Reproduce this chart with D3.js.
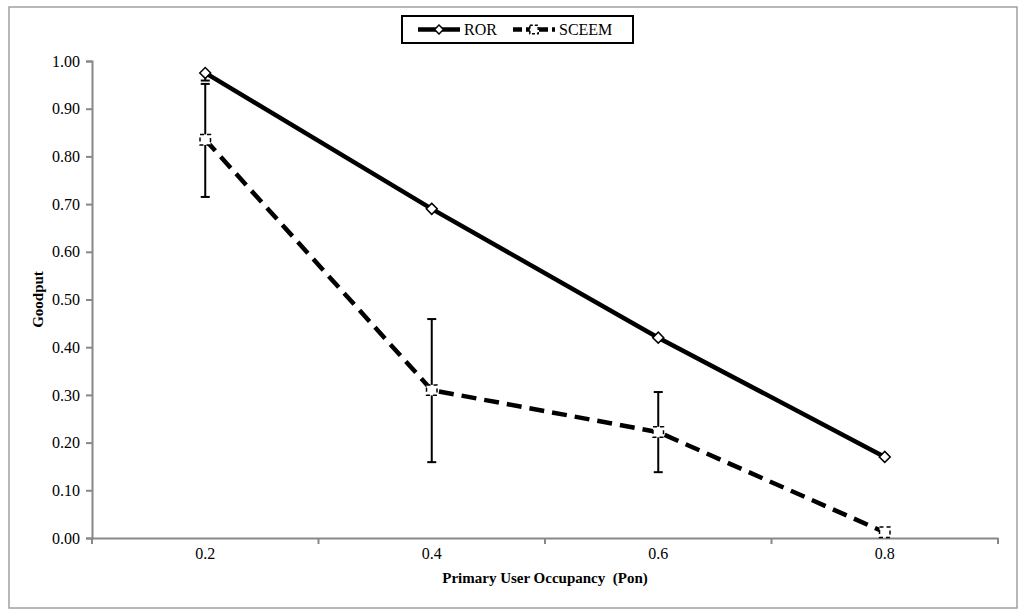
<!DOCTYPE html>
<html><head><meta charset="utf-8">
<script src="https://cdn.jsdelivr.net/npm/d3@7"></script>
<style>body{margin:0;background:#fff}svg{display:block}</style>
</head><body>
<script>
const categories = ["0.2", "0.4", "0.6", "0.8"];
const rorValues = [0.975, 0.69, 0.42, 0.17];
const sceemValues = [0.835, 0.31, 0.222, 0.012];
const sceemErrLow = [0.715, 0.159, 0.138, null];
const sceemErrHigh = [0.952, 0.459, 0.306, null];
const rorErrLow = [0.959, null, null, null];
const rorErrHigh = [0.975, null, null, null];
const yTicks = [0, 0.1, 0.2, 0.3, 0.4, 0.5, 0.6, 0.7, 0.8, 0.9, 1.0];
const seriesNames = ["ROR", "SCEEM"];

(function () {
const W = 1024, H = 615;
const svg = d3.select("body").append("svg").attr("width", W).attr("height", H);
const font = "'Liberation Serif', 'Times New Roman', serif";

svg.append("rect").attr("x", 9).attr("y", 7).attr("width", 1008).attr("height", 601)
  .attr("fill", "#fff").attr("stroke", "#a0a0a0").attr("stroke-width", 1.5);

const mLeft = 92, mRight = 998, mTop = 61, mBottom = 538;
const x = d3.scaleBand().domain(categories).range([mLeft, mRight]);
const y = d3.scaleLinear().domain([0, 1]).range([mBottom, mTop]);

// Y axis
const yAxis = svg.append("g").attr("transform", `translate(${mLeft},0)`)
  .call(d3.axisLeft(y).tickValues(yTicks).tickFormat(d3.format(".2f")).tickSize(6).tickPadding(6));
yAxis.select(".domain").attr("stroke", "#888").attr("stroke-width", 2);
yAxis.selectAll(".tick line").attr("stroke", "#888").attr("stroke-width", 2);
yAxis.selectAll(".tick text").attr("font-family", font).attr("font-size", 16).attr("fill", "#000");

// X axis
const xAxis = svg.append("g").attr("transform", `translate(0,${mBottom})`)
  .call(d3.axisBottom(x).tickSize(0).tickPadding(10).tickSizeOuter(0));
xAxis.select(".domain").attr("stroke", "#888").attr("stroke-width", 2);
xAxis.selectAll(".tick text").attr("font-family", font).attr("font-size", 16).attr("fill", "#000");
const bounds = categories.map(c => x(c)).concat([x(categories[categories.length - 1]) + x.bandwidth()]);
svg.append("g").selectAll("line").data(bounds).join("line")
  .attr("x1", d => d).attr("x2", d => d).attr("y1", mBottom).attr("y2", mBottom + 6)
  .attr("stroke", "#888").attr("stroke-width", 2);

// Titles
svg.append("text").attr("x", (mLeft + mRight) / 2).attr("y", 583).attr("text-anchor", "middle")
  .attr("font-family", font).attr("font-size", 15).attr("font-weight", "bold")
  .attr("xml:space", "preserve").text("Primary User Occupancy  (Pon)");
svg.append("text").attr("transform", `translate(43,${(mTop + mBottom) / 2}) rotate(-90)`)
  .attr("text-anchor", "middle").attr("font-family", font).attr("font-size", 15)
  .attr("font-weight", "bold").text("Goodput");

const cx = c => x(c) + x.bandwidth() / 2;

// Error bars
function errBars(lo, hi) {
  const g = svg.append("g").attr("stroke", "#000").attr("stroke-width", 2);
  categories.forEach((c, i) => {
    if (lo[i] == null) return;
    g.append("line").attr("x1", cx(c)).attr("x2", cx(c)).attr("y1", y(lo[i])).attr("y2", y(hi[i]));
    [lo[i], hi[i]].forEach(v => g.append("line").attr("x1", cx(c) - 4.5).attr("x2", cx(c) + 4.5)
      .attr("y1", y(v)).attr("y2", y(v)));
  });
}
errBars(sceemErrLow, sceemErrHigh);
errBars(rorErrLow, rorErrHigh);

const line = d3.line().x((d, i) => cx(categories[i])).y(d => y(d));

svg.append("path").datum(rorValues).attr("d", line).attr("fill", "none")
  .attr("stroke", "#000").attr("stroke-width", 4.5);
svg.append("path").datum(sceemValues).attr("d", line).attr("fill", "none")
  .attr("stroke", "#000").attr("stroke-width", 4.5).attr("stroke-dasharray", "15,8");

// Markers
svg.append("g").selectAll("path").data(rorValues).join("path")
  .attr("d", d3.symbol().type(d3.symbolSquare).size(60)())
  .attr("transform", (d, i) => `translate(${cx(categories[i])},${y(d)}) rotate(45)`)
  .attr("fill", "#fff").attr("stroke", "#000").attr("stroke-width", 1.5);
svg.append("g").selectAll("path").data(sceemValues).join("path")
  .attr("transform", (d, i) => `translate(${cx(categories[i])},${y(d)})`)
  .attr("d", d3.symbol().type(d3.symbolSquare).size(110)())
  .attr("fill", "#fff").attr("stroke", "#000").attr("stroke-width", 1.5).attr("stroke-dasharray", "4,3");

// Legend
const lg = svg.append("g");
lg.append("rect").attr("x", 402).attr("y", 16).attr("width", 231).attr("height", 27)
  .attr("fill", "#fff").attr("stroke", "#000").attr("stroke-width", 2);
const items = [{name: seriesNames[0], x0: 418, dash: null}, {name: seriesNames[1], x0: 513, dash: "9,4"}];
items.forEach((it, k) => {
  const ly = 29.5;
  lg.append("line").attr("x1", it.x0).attr("x2", it.x0 + 42).attr("y1", ly).attr("y2", ly)
    .attr("stroke", "#000").attr("stroke-width", 4.5).attr("stroke-dasharray", it.dash);
  if (k === 0) {
    lg.append("path").attr("d", d3.symbol().type(d3.symbolSquare).size(40)())
      .attr("transform", `translate(${it.x0 + 21},${ly}) rotate(45)`)
      .attr("fill", "#fff").attr("stroke", "#000").attr("stroke-width", 1.5);
  } else {
    lg.append("path").attr("d", d3.symbol().type(d3.symbolSquare).size(70)())
      .attr("transform", `translate(${it.x0 + 21},${ly})`)
      .attr("fill", "#fff").attr("stroke", "#000").attr("stroke-width", 1.5).attr("stroke-dasharray", "3,2");
  }
  lg.append("text").attr("x", it.x0 + 46).attr("y", ly + 5.5).attr("font-family", font)
    .attr("font-size", 16).text(it.name);
});
})();
</script>
</body></html>
